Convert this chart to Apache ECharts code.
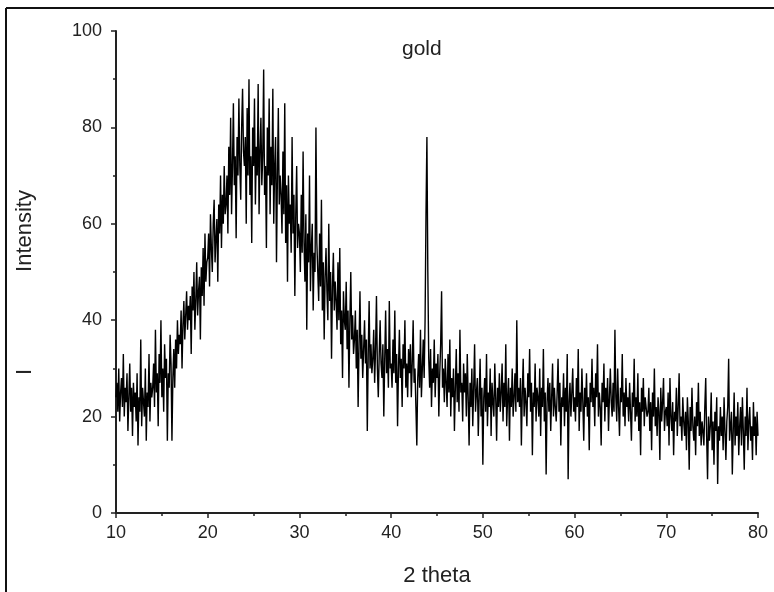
<!DOCTYPE html>
<html>
<head>
<meta charset="utf-8">
<title>gold</title>
<script src="https://cdn.jsdelivr.net/npm/echarts@6/dist/echarts.min.js"></script>
<style>
    html, body { margin: 0; padding: 0; background: #fff; }
    #chart { width: 774px; height: 592px; }
</style>
</head>
<body>
<div id="chart"></div>
<script>
//2 theta 起点和步长
var thetaStart = 10;
var thetaStep = 0.1;

//强度值 (每行 2 度)
var intensity = [
    24, 27, 21, 30, 19, 25, 28, 22, 33, 20, 26, 23, 29, 17, 24, 31, 21, 26, 16, 27,
    22, 25, 19, 29, 14, 24, 21, 36, 18, 26, 23, 20, 30, 15, 25, 22, 33, 19, 27, 24,
    26, 31, 22, 38, 25, 29, 18, 33, 27, 40, 24, 30, 21, 35, 28, 32, 15, 29, 26, 37,
    31, 15, 28, 34, 26, 36, 30, 40, 33, 37, 35, 42, 30, 39, 44, 36, 41, 46, 38, 43,
    40, 45, 33, 47, 42, 50, 38, 44, 52, 41, 46, 49, 36, 51, 45, 55, 43, 58, 48, 52,
    53, 58, 47, 62, 55, 50, 60, 65, 52, 57, 61, 48, 64, 58, 70, 55, 66, 60, 72, 62,
    64, 70, 58, 76, 66, 82, 62, 72, 85, 68, 74, 57, 78, 70, 86, 72, 65, 80, 88, 75,
    72, 78, 60, 84, 70, 90, 66, 74, 56, 80, 72, 86, 64, 76, 70, 89, 62, 75, 82, 68,
    74, 92, 66, 72, 55, 80, 70, 86, 62, 76, 68, 88, 60, 72, 78, 52, 70, 84, 64, 70,
    66, 58, 75, 62, 85, 56, 68, 48, 70, 60, 64, 54, 78, 58, 66, 45, 62, 72, 55, 60,
    58, 50, 66, 54, 75, 56, 48, 62, 38, 58, 52, 70, 46, 55, 60, 42, 54, 50, 80, 56,
    50, 44, 58, 47, 65, 42, 52, 36, 49, 55, 46, 40, 60, 44, 50, 32, 47, 54, 42, 48,
    44, 38, 52, 40, 55, 35, 42, 28, 46, 40, 38, 48, 34, 42, 26, 40, 50, 36, 41, 33,
    36, 42, 30, 38, 22, 35, 46, 32, 37, 28, 34, 40, 31, 36, 17, 33, 44, 30, 35, 29,
    32, 38, 27, 34, 45, 30, 24, 33, 40, 31, 28, 35, 20, 32, 42, 29, 34, 26, 44, 30,
    31, 26, 36, 29, 42, 27, 33, 18, 30, 38, 28, 32, 22, 35, 30, 40, 26, 31, 24, 34,
    29, 35, 24, 31, 40, 27, 30, 22, 14, 28, 33, 26, 38, 24, 30, 36, 28, 40, 62, 78,
    50, 32, 26, 34, 22, 30, 27, 36, 24, 31, 28, 33, 20, 29, 35, 46, 26, 30, 23, 32,
    27, 22, 33, 25, 36, 20, 28, 24, 30, 17, 26, 34, 23, 29, 21, 38, 25, 27, 19, 31,
    25, 29, 20, 33, 24, 14, 27, 22, 30, 18, 26, 35, 21, 25, 28, 16, 24, 32, 20, 26,
    10, 24, 28, 21, 33, 18, 25, 22, 30, 16, 27, 23, 20, 31, 24, 15, 26, 22, 29, 21,
    25, 31, 19, 27, 22, 35, 18, 24, 28, 15, 26, 22, 30, 20, 24, 29, 21, 40, 23, 26,
    22, 28, 14, 25, 32, 20, 26, 23, 18, 29, 24, 34, 21, 27, 12, 25, 22, 31, 19, 26,
    24, 20, 30, 16, 26, 22, 34, 19, 25, 8, 23, 28, 21, 27, 17, 24, 31, 20, 26, 22,
    19, 25, 32, 21, 27, 14, 24, 22, 29, 18, 26, 21, 33, 7, 23, 27, 20, 25, 30, 21,
    24, 19, 28, 22, 34, 17, 25, 21, 30, 23, 15, 26, 22, 29, 20, 24, 13, 27, 23, 32,
    22, 26, 18, 29, 24, 35, 20, 25, 22, 14, 27, 23, 31, 19, 26, 22, 28, 17, 24, 30,
    23, 20, 27, 21, 38, 24, 19, 30, 22, 16, 26, 23, 33, 20, 25, 18, 28, 22, 24, 19,
    27, 21, 15, 25, 22, 32, 19, 24, 20, 29, 17, 23, 12, 26, 21, 28, 18, 24, 22, 20,
    21, 26, 17, 23, 13, 25, 20, 30, 18, 22, 16, 24, 21, 11, 26, 19, 23, 28, 17, 21,
    22, 18, 25, 14, 28, 20, 17, 23, 12, 21, 19, 26, 16, 22, 29, 18, 20, 15, 24, 19,
    16, 21, 13, 24, 19, 9, 22, 17, 26, 18, 15, 20, 12, 23, 18, 27, 16, 21, 14, 19,
    17, 14, 22, 28, 16, 7, 20, 15, 18, 25, 13, 19, 10, 21, 17, 24, 6, 18, 15, 22,
    16, 20, 13, 24, 17, 11, 19, 22, 32, 15, 18, 21, 8, 17, 25, 14, 20, 16, 23, 12,
    18, 22, 14, 24, 17, 9, 20, 16, 26, 13, 19, 22, 15, 18, 11, 23, 16, 20, 12, 21,
    16
];

//坐标轴刻度
var xTicks = [10, 20, 30, 40, 50, 60, 70, 80];
var yTicks = [0, 20, 40, 60, 80, 100];

//组装数据
var seriesData = [];
for (var i = 0; i < intensity.length; i++) {
    seriesData.push([+(thetaStart + i * thetaStep).toFixed(1), intensity[i]]);
}

var chart = echarts.init(document.getElementById("chart"));

var labelFont = {
    color: "#222",
    fontFamily: "Liberation Sans",
    fontSize: 18
};

option = {
    backgroundColor: "#fff",
    animation: false,
    grid: {
        left: 116,
        right: 16,
        top: 31,
        bottom: 79
    },
    title: {
        text: "gold",
        left: 397,
        top: 34,
        textStyle: {
            color: "#222",
            fontFamily: "Liberation Sans",
            fontWeight: "normal",
            fontSize: 21
        }
    },
    xAxis: {
        type: "value",
        min: xTicks[0],
        max: xTicks[xTicks.length - 1],
        interval: 10,
        name: "2 theta",
        nameLocation: "middle",
        nameGap: 52,
        nameTextStyle: {
            color: "#222",
            fontFamily: "Liberation Sans",
            fontSize: 22
        },
        axisLine: { lineStyle: { color: "#222", width: 2 } },
        axisTick: { inside: false, length: 5, lineStyle: { color: "#222", width: 1.5 } },
        minorTick: { show: true, splitNumber: 2, length: 3, lineStyle: { color: "#222", width: 1.5 } },
        splitLine: { show: false },
        axisLabel: {
            margin: 11,
            color: labelFont.color,
            fontFamily: labelFont.fontFamily,
            fontSize: labelFont.fontSize
        }
    },
    yAxis: {
        type: "value",
        min: yTicks[0],
        max: yTicks[yTicks.length - 1],
        interval: 20,
        axisLine: { show: true, lineStyle: { color: "#222", width: 2 } },
        axisTick: { show: true, inside: false, length: 5, lineStyle: { color: "#222", width: 1.5 } },
        minorTick: { show: true, splitNumber: 2, length: 3, lineStyle: { color: "#222", width: 1.5 } },
        splitLine: { show: false },
        axisLabel: {
            margin: 14,
            color: labelFont.color,
            fontFamily: labelFont.fontFamily,
            fontSize: labelFont.fontSize
        }
    },
    graphic: [
        {
            type: "line",
            shape: { x1: 6, y1: 8, x2: 6, y2: 592 },
            style: { stroke: "#111", lineWidth: 2 }
        },
        {
            type: "line",
            shape: { x1: 6, y1: 8, x2: 774, y2: 8 },
            style: { stroke: "#111", lineWidth: 2 }
        },
        {
            type: "text",
            x: 14,
            y: 231,
            rotation: Math.PI / 2,
            style: {
                text: "Intensity",
                fill: "#222",
                font: "22px 'Liberation Sans'",
                textAlign: "center",
                textVerticalAlign: "top"
            }
        },
        {
            type: "text",
            x: 14,
            y: 372,
            rotation: Math.PI / 2,
            style: {
                text: "I",
                fill: "#222",
                font: "22px 'Liberation Sans'",
                textAlign: "center",
                textVerticalAlign: "top"
            }
        }
    ],
    series: [
        {
            name: "gold",
            type: "line",
            data: seriesData,
            showSymbol: false,
            symbol: "none",
            lineStyle: { color: "#000", width: 1.4 }
        }
    ]
};

chart.setOption(option);
</script>
</body>
</html>
